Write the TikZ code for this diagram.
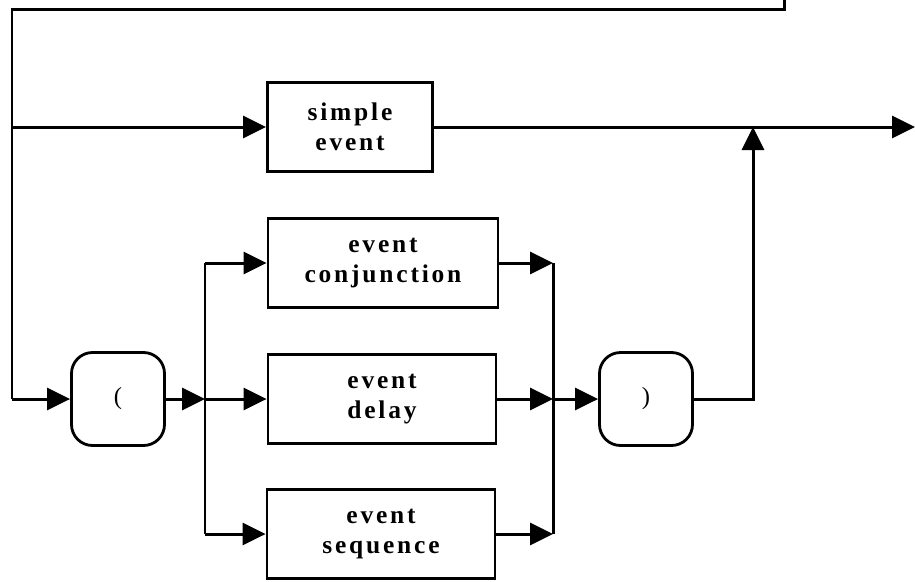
\documentclass[tikz,border=0pt]{standalone}
\usepackage{fontspec}
\newfontfamily\boxfont{Liberation Serif}[LetterSpace=11]
\usepackage{tikz}
\usetikzlibrary{arrows.meta}

\begin{document}
\begin{tikzpicture}[
  box/.style={draw, line width=1.6pt, minimum height=1.78cm, align=center, inner sep=0pt,
    font=\boxfont\bfseries\fontsize{14.5}{17}\selectfont},
  paren/.style={draw, line width=1.6pt, rounded corners=0.42cm, minimum width=1.86cm, minimum height=1.86cm,
    font=\boxfont\fontsize{14}{17}\selectfont},
  arrow/.style={-{Triangle[length=0.46cm, width=0.44cm]}}
]
\useasboundingbox (0,0) rectangle (18.3,-11.62);

% nodes
\node[box, minimum width=3.3cm] (simple) at (7.0,-2.54) {simple\\event};
\node[box, minimum width=4.6cm] (conj) at (7.66,-5.26) {event\\conjunction};
\node[box, minimum width=4.56cm] (delay) at (7.64,-7.98) {event\\delay};
\node[box, minimum width=4.56cm] (seq) at (7.62,-10.68) {event\\sequence};
\node[paren] (open) at (2.36,-7.98) {(};
\node[paren] (close) at (12.92,-7.98) {)};

% junctions
\coordinate (top) at (15.68,0);
\coordinate (topright) at (15.68,-0.18);
\coordinate (topleft) at (0.24,-0.18);
\coordinate (left) at (0.24,-2.54);
\coordinate (bottomleft) at (0.24,-7.98);
\coordinate (split1) at (4.1,-5.26);
\coordinate (split2) at (4.1,-7.98);
\coordinate (split3) at (4.1,-10.68);
\coordinate (merge1) at (11.06,-5.26);
\coordinate (merge2) at (11.06,-7.98);
\coordinate (merge3) at (11.06,-10.68);
\coordinate (rise) at (15.06,-7.98);
\coordinate (join) at (15.06,-2.54);
\coordinate (exit) at (18.3,-2.54);

% connectors
\begin{scope}[line width=1.7pt]
\draw (top) -- (topright) -- (topleft) -- (bottomleft);
\draw[arrow] (bottomleft) -- (open);
\draw[arrow] (left) -- (simple);
\draw[arrow] (simple) -- (exit);
\draw[arrow] (open) -- (split2);
\draw (split1) -- (split3);
\draw[arrow] (split1) -- (conj);
\draw[arrow] (split2) -- (delay);
\draw[arrow] (split3) -- (seq);
\draw (merge1) -- (merge3);
\draw[arrow] (conj) -- (merge1);
\draw[arrow] (delay) -- (merge2);
\draw[arrow] (seq) -- (merge3);
\draw[arrow] (merge2) -- (close);
\draw[arrow] (close) -- (rise) -- (join);
\end{scope}
\end{tikzpicture}
\end{document}
